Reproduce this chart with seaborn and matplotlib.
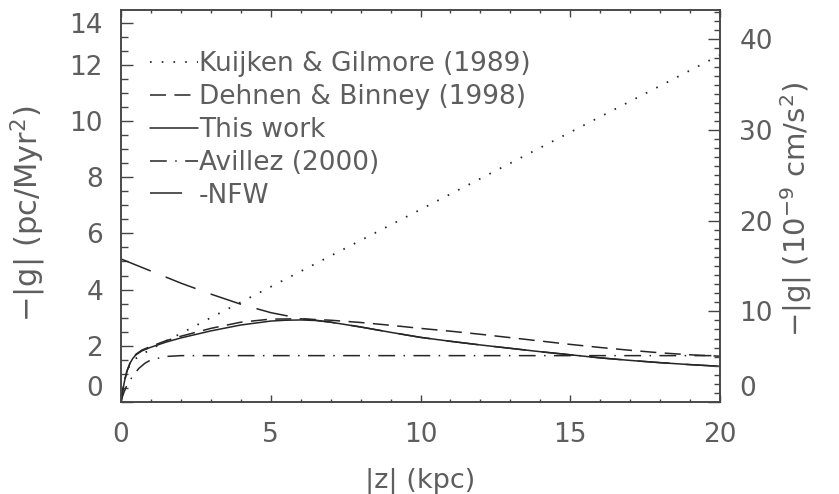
import matplotlib
matplotlib.use("Agg")
import matplotlib.pyplot as plt
import seaborn as sns
from matplotlib.ticker import FixedLocator, MultipleLocator

# |z| in kpc and -|g| in pc/Myr^2 for each model
z_kg = [0, 0.05, 0.1, 0.2, 0.3, 0.5, 0.75, 1, 1.5, 2, 3, 4, 5, 6, 8, 10, 12, 14, 16, 18, 20]
g_kg = [0, 0.39, 0.71, 1.11, 1.32, 1.55, 1.72, 1.88, 2.17, 2.44, 3.0, 3.55, 4.1, 4.65,
        5.75, 6.85, 7.95, 9.05, 10.15, 11.25, 12.35]

z_db = [0, 0.05, 0.1, 0.2, 0.3, 0.5, 0.7, 1, 1.5, 2, 3, 4, 5, 6, 7, 8, 9, 10, 11, 12,
        13, 14, 15, 16, 17, 18, 19, 20]
g_db = [0, 0.36, 0.66, 1.1, 1.38, 1.7, 1.85, 1.98, 2.18, 2.34, 2.62, 2.84, 2.95, 2.96,
        2.91, 2.83, 2.73, 2.62, 2.52, 2.41, 2.29, 2.17, 2.05, 1.94, 1.84, 1.75, 1.68, 1.63]

z_tw = [0, 0.05, 0.1, 0.15, 0.2, 0.3, 0.4, 0.5, 0.7, 1, 1.5, 2, 3, 4, 5, 5.5, 6, 6.5, 7,
        8, 9, 10, 11, 12, 13, 14, 15, 16, 17, 18, 19, 20]
g_tw = [0, 0.35, 0.65, 0.9, 1.1, 1.38, 1.56, 1.68, 1.82, 1.95, 2.13, 2.28, 2.53, 2.74,
        2.88, 2.91, 2.92, 2.9, 2.84, 2.67, 2.48, 2.30, 2.16, 2.03, 1.91, 1.79, 1.68,
        1.57, 1.48, 1.40, 1.33, 1.27]

z_av = [0, 0.05, 0.1, 0.2, 0.4, 0.6, 0.8, 1.0, 1.5, 2, 5, 10, 15, 20]
g_av = [0, 0.2, 0.35, 0.6, 0.94, 1.2, 1.38, 1.5, 1.62, 1.65, 1.65, 1.65, 1.65, 1.65]

z_nfw = [0, 1, 2, 3, 4, 5, 6, 6.5, 7, 8, 9, 10, 11, 12, 13, 14, 15, 16, 17, 18, 19, 20]
g_nfw = [5.09, 4.66, 4.23, 3.84, 3.48, 3.18, 2.97, 2.91, 2.84, 2.67, 2.48, 2.30, 2.16,
         2.03, 1.91, 1.79, 1.68, 1.57, 1.48, 1.40, 1.33, 1.27]

labels = ["Kuijken & Gilmore (1989)", "Dehnen & Binney (1998)", "This work",
          "Avillez (2000)", "-NFW"]

# axis ticks
x_major = [0, 5, 10, 15, 20]
left_tick_vals = [0, 2, 4, 6, 8, 10, 12, 13.5]
left_tick_text = ["0", "2", "4", "6", "8", "10", "12", "14"]
right_ticks = [0, 10, 20, 30, 40]
unit_factor = 3.1  # pc/Myr^2 -> 1e-9 cm/s^2

sns.set_theme(style="ticks")
plt.rcParams["font.family"] = ["DejaVu Sans"]
text_col = "#5e5e5e"
line_col = "#262626"
frame_col = "#444444"

fig = plt.figure(figsize=(8.39, 4.94), dpi=100)
ax = fig.add_axes([121 / 839, 1 - 402 / 494, 599 / 839, 392 / 494])

lw = 1.1
sns.lineplot(x=z_kg, y=g_kg, ax=ax, color=line_col, lw=1.3, label=labels[0],
             linestyle=(0, (0.9, 5.6)), sort=False)
sns.lineplot(x=z_db, y=g_db, ax=ax, color=line_col, lw=lw, label=labels[1],
             linestyle=(0, (10.5, 5.5)), sort=False)
sns.lineplot(x=z_tw, y=g_tw, ax=ax, color=line_col, lw=lw, label=labels[2],
             linestyle="-", sort=False)
sns.lineplot(x=z_av, y=g_av, ax=ax, color=line_col, lw=lw, label=labels[3],
             linestyle=(0, (11, 5.5, 1, 5.5)), sort=False)
sns.lineplot(x=z_nfw, y=g_nfw, ax=ax, color=line_col, lw=lw, label=labels[4],
             linestyle=(0, (21, 10.5)), sort=False)

ax.set_xlim(0, 20)
ax.set_ylim(0, 13.95)

for s in ax.spines.values():
    s.set_visible(True)
    s.set_color(frame_col)
    s.set_linewidth(1.1)

ax.xaxis.set_major_locator(FixedLocator(x_major))
ax.xaxis.set_minor_locator(MultipleLocator(1))
ax.yaxis.set_major_locator(FixedLocator(left_tick_vals))
ax.set_yticklabels(left_tick_text)
ax.yaxis.set_minor_locator(MultipleLocator(0.5))

ax.tick_params(axis="x", which="both", direction="in", top=True, bottom=True,
               colors=frame_col, labelcolor=text_col, labelsize=19, pad=14.5)
ax.tick_params(axis="x", which="major", length=5, width=1.0)
ax.tick_params(axis="x", which="minor", length=2.5, width=1.0)
ax.tick_params(axis="y", which="both", direction="in", left=True, right=False,
               colors=frame_col, labelcolor=text_col, labelsize=19, pad=13)
ax.tick_params(axis="y", which="major", length=8.6, width=1.0)
ax.tick_params(axis="y", which="minor", length=4.7, width=1.0)

ax.set_xlabel("|z| (kpc)", fontsize=19.5, color=text_col, labelpad=14)
ax.set_ylabel("$-$|g| (pc/Myr$^2$)", fontsize=22, color=text_col)
ax.yaxis.set_label_coords(-0.122, 0.48)

# second scale in cgs units
ax2 = ax.twinx()
ax2.set_ylim(0, 13.95 * unit_factor)
ax2.yaxis.set_major_locator(FixedLocator(right_ticks))
ax2.yaxis.set_minor_locator(MultipleLocator(1))
ax2.tick_params(axis="y", which="both", direction="in", right=True, left=False,
                colors=frame_col, labelcolor=text_col, labelsize=19, pad=14)
ax2.tick_params(axis="y", which="major", length=8.6, width=1.0)
ax2.tick_params(axis="y", which="minor", length=4.2, width=1.0)
for s in ax2.spines.values():
    s.set_color(frame_col)
    s.set_linewidth(1.1)
ax2.set_ylabel("$-$|g| (10$^{-9}$ cm/s$^2$)", fontsize=21, color=text_col,
               rotation=90)
ax2.yaxis.set_label_coords(1.097, 0.49)

leg = ax.legend(loc="upper left", bbox_to_anchor=(0.048, 0.895), frameon=False,
                fontsize=19, handlelength=1.82, handletextpad=0.05,
                labelspacing=0.26, borderpad=0, borderaxespad=0)
for t in leg.get_texts():
    t.set_color(text_col)

fig.canvas.draw()
for lab in (ax.get_yticklabels()[0], ax2.get_yticklabels()[0]):
    lab.set_verticalalignment("bottom")

fig.savefig("out.png", dpi=100, facecolor="white")
